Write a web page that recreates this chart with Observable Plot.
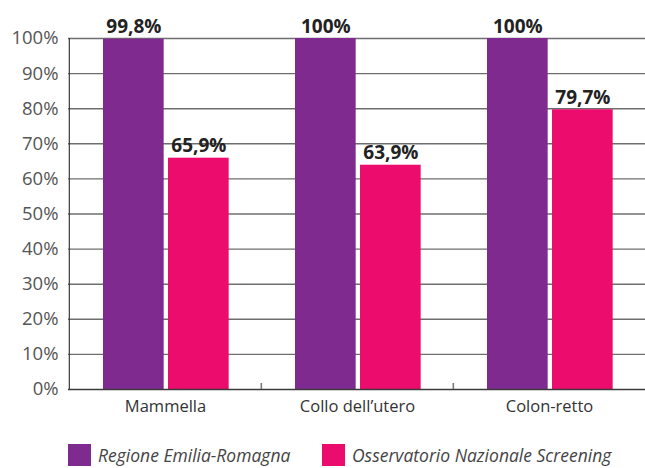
<!DOCTYPE html>
<html>
<head>
<meta charset="utf-8">
<script src="https://cdn.jsdelivr.net/npm/d3@7"></script>
<script src="https://cdn.jsdelivr.net/npm/@observablehq/plot@0.6"></script>
<style>
  html, body { margin: 0; padding: 0; background: #fff; }
  #chart { width: 645px; }
  .legend { position: relative; height: 38px; font-family: "Open Sans", sans-serif; font-style: italic; font-size: 17.5px; line-height: 20px; color: #444; }
  .legend .item { position: absolute; top: 14px; display: flex; align-items: center; }
  .legend .sw { width: 23px; height: 22px; margin-right: 7px; }
</style>
</head>
<body>
<div id="chart"></div>
<script>
const categories = ["Mammella", "Collo dell\u2019utero", "Colon-retto"];
const seriesNames = ["Regione Emilia-Romagna", "Osservatorio Nazionale Screening"];
const regione = [99.8, 100, 100];
const osservatorio = [65.9, 63.9, 79.7];
const yTicks = [0, 10, 20, 30, 40, 50, 60, 70, 80, 90, 100];
const colors = ["#7f2a8e", "#ec0c6e"];

const W = 645, H = 430, mL = 68, mR = 0, mT = 38, mB = 41;
const bw = (W - mL - mR) / categories.length;

const fmt = v => (Number.isInteger(v) ? String(v) : v.toFixed(1).replace(".", ",")) + "%";
const rows = s => categories.map((c, i) => ({category: c, value: s[i]}));
const dataA = rows(regione), dataB = rows(osservatorio);

const barW = 61, padL = 34, gap = 4;
const insA = {insetLeft: padL, insetRight: bw - padL - barW};
const insB = {insetLeft: padL + barW + gap, insetRight: bw - padL - 2 * barW - gap};
const dxA = padL + barW / 2 - bw / 2;
const dxB = padL + barW + gap + barW / 2 - bw / 2;

const chart = Plot.plot({
  width: W, height: H,
  marginLeft: mL, marginRight: mR, marginTop: mT, marginBottom: mB,
  style: {fontFamily: "Open Sans, sans-serif", background: "#fff"},
  x: {domain: categories, padding: 0, label: null, tickSize: 0, tickPadding: 11},
  y: {domain: [0, 100], ticks: yTicks, tickFormat: d => d + "%", tickSize: 0, tickPadding: 10, label: null},
  marks: [
    Plot.ruleY(yTicks.filter(d => d > 0), {stroke: "#6e6e6e", strokeWidth: 1.4}),
    Plot.barY(dataA, {x: "category", y: "value", fill: colors[0], ...insA}),
    Plot.barY(dataB, {x: "category", y: "value", fill: colors[1], ...insB}),
    Plot.ruleY([0], {stroke: "#3a3a3a", strokeWidth: 1.4}),
    Plot.ruleX([categories[0]], {x: d => d, y1: 0, y2: 100, dx: -bw / 2, stroke: "#3a3a3a", strokeWidth: 1.2}),
    Plot.ruleX(categories.slice(1), {x: d => d, y1: 0, y2: 0, insetTop: -6, dx: -bw / 2, stroke: "#7a7a7a", strokeWidth: 1.6}),
    Plot.text(dataA, {x: "category", y: "value", text: d => fmt(d.value), dx: dxA, dy: -6, lineAnchor: "bottom", fontWeight: "bold", fontSize: 19, fill: "#222"}),
    Plot.text(dataB, {x: "category", y: "value", text: d => fmt(d.value), dx: dxB, dy: -6, lineAnchor: "bottom", fontWeight: "bold", fontSize: 19, fill: "#222"})
  ]
});

const ya = chart.querySelector("g[aria-label='y-axis tick label']");
if (ya) { ya.setAttribute("font-size", "18.5"); ya.setAttribute("fill", "#555"); ya.style.fontSize = "18.5px"; }
const xa = chart.querySelector("g[aria-label='x-axis tick label']");
if (xa) { xa.setAttribute("font-size", "16.5"); xa.setAttribute("fill", "#333"); xa.style.fontSize = "16.5px"; }

document.getElementById("chart").appendChild(chart);

const legend = document.createElement("div");
legend.className = "legend";
const lx = [68, 322];
seriesNames.forEach((n, i) => {
  const it = document.createElement("div");
  it.className = "item";
  it.style.left = lx[i] + "px";
  const sw = document.createElement("span");
  sw.className = "sw"; sw.style.background = colors[i];
  const tx = document.createElement("span");
  tx.textContent = n;
  it.appendChild(sw); it.appendChild(tx);
  legend.appendChild(it);
});
document.getElementById("chart").appendChild(legend);
</script>
</body>
</html>
